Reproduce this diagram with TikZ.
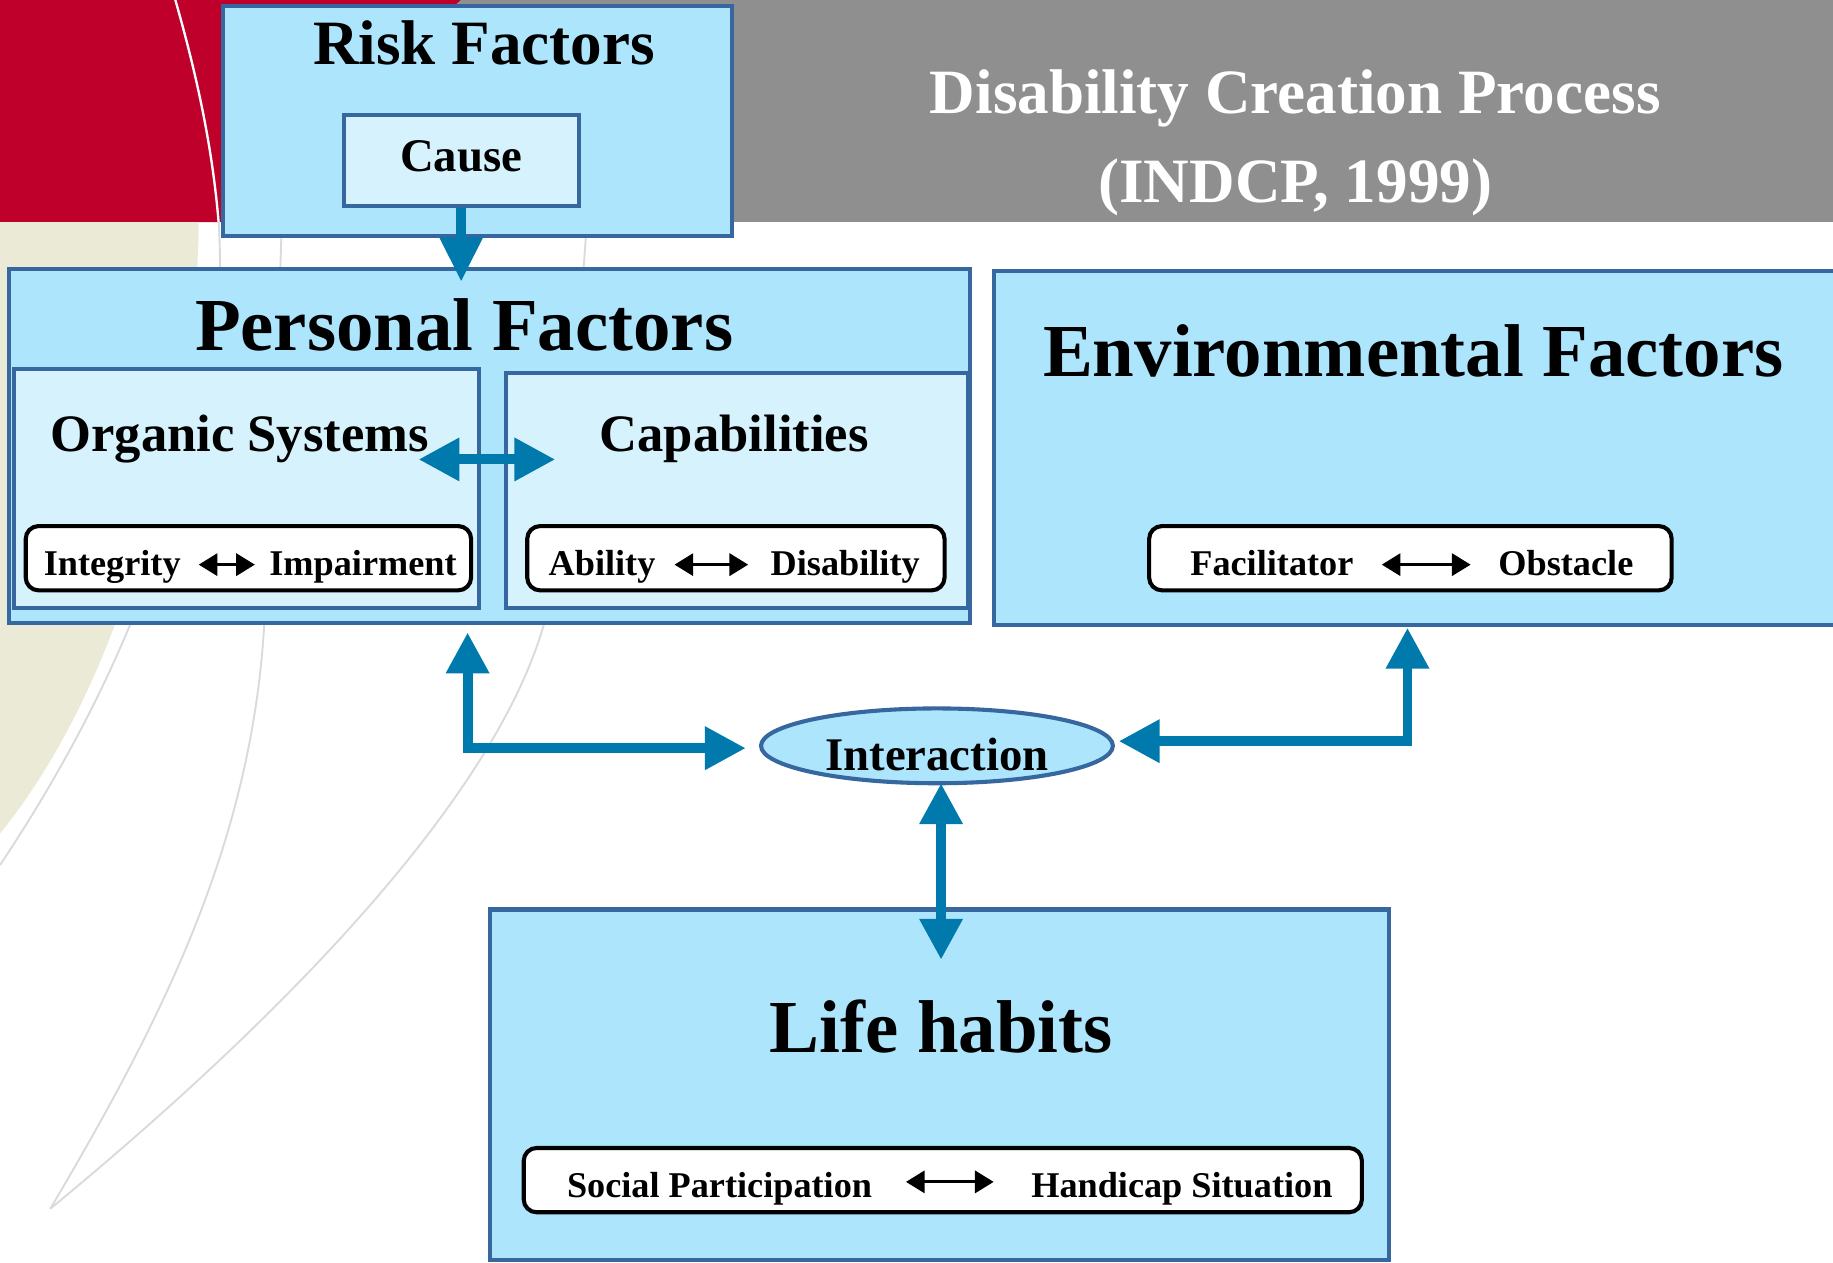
\documentclass[tikz,border=0pt]{standalone}
\usepackage{fontspec}
\setmainfont{Liberation Serif}
\usetikzlibrary{arrows.meta,shapes.geometric,calc}
\definecolor{boxfill}{RGB}{173,229,252}
\definecolor{innerfill}{RGB}{214,242,252}
\definecolor{bordercol}{RGB}{54,103,158}
\definecolor{arrowcol}{RGB}{0,121,173}
\definecolor{redbg}{RGB}{190,0,43}
\definecolor{graybg}{RGB}{143,143,143}
\definecolor{beigebg}{RGB}{235,234,214}
\definecolor{thinline}{RGB}{218,218,218}
\newcommand{\myfs}[1]{\fontsize{#1}{#1}\selectfont\bfseries}
\begin{document}
\begin{tikzpicture}[x=1pt,y=-1pt,
  bigbox/.style={draw=bordercol, line width=3.5pt, fill=boxfill, rectangle, inner sep=0pt},
  innerbox/.style={bigbox, fill=innerfill},
  pillbox/.style={draw=black, line width=3.5pt, fill=white, rectangle, rounded corners=11pt, inner sep=0pt, minimum height=55pt},
  txt/.style={inner sep=0pt, anchor=base, text=black},
  tealboth/.style={draw=arrowcol, line width=8.5pt, {Triangle[length=35pt,width=35pt]}-{Triangle[length=35pt,width=35pt]}},
  tealone/.style={draw=arrowcol, line width=8.5pt, -{Triangle[length=38pt,width=35pt]}},
  smallboth/.style={draw=black, line width=2.5pt, {Triangle[length=16pt,width=19pt]}-{Triangle[length=16pt,width=19pt]}},
  bgline/.style={draw=thinline, line width=1.6pt}
]
\useasboundingbox (0,0) rectangle (1568,1080);
% ---------- background ----------
\fill[white] (0,0) rectangle (1568,1080);
\fill[graybg] (0,0) rectangle (1568,190);
\fill[redbg] (0,0) -- (394,0) .. controls (330,60) and (300,130) .. (290,190) -- (0,190) -- cycle;
\fill[beigebg] (0,190) -- (170,190) .. controls (168,330) and (140,440) .. (98,535) .. controls (70,610) and (35,670) .. (0,713) -- cycle;
\draw[white, line width=2pt] (150,0) .. controls (170,70) and (182,130) .. (187,190);
\draw[bgline] (187,190) .. controls (195,300) and (160,420) .. (111,535) .. controls (80,610) and (40,680) .. (0,740);
\draw[bgline] (241,190) .. controls (238,300) and (232,420) .. (226,535) .. controls (215,720) and (140,870) .. (43,1034);
\draw[bgline] (502,190) .. controls (495,300) and (480,420) .. (465,535) .. controls (420,690) and (230,880) .. (43,1034);
% ---------- title ----------
\node[txt, text=white, font=\myfs{54}] (title1) at (1108,97) {Disability Creation Process};
\node[txt, text=white, font=\myfs{54}] (title2) at (1108,173) {(INDCP, 1999)};
% ---------- boxes ----------
\node[bigbox, minimum width=435pt, minimum height=197pt] (risk) at (408.5,103.5) {};
\node[txt, font=\myfs{54}] (risktxt) at (414,55) {Risk Factors};
\node[innerbox, minimum width=201pt, minimum height=78pt] (cause) at (394.5,137) {};
\node[txt, font=\myfs{40}] (causetxt) at (394.5,147) {Cause};

\node[bigbox, minimum width=822pt, minimum height=303pt] (personal) at (419,381.5) {};
\node[txt, font=\myfs{64}] (perstxt) at (397,300) {Personal Factors};
\node[innerbox, minimum width=398pt, minimum height=204pt] (organic) at (211,418) {};
\node[innerbox, minimum width=395pt, minimum height=201pt] (capab) at (630.5,419.5) {};
\node[txt, font=\myfs{45}] (orgtxt) at (205,386) {Organic Systems};
\node[txt, font=\myfs{45}] (captxt) at (628,386) {Capabilities};

\node[pillbox, minimum width=381pt] (integ) at (212.5,477.5) {};
\node[txt, font=\myfs{31}] (integtxt) at (96,492) {Integrity};
\node[txt, font=\myfs{31}] (imptxt) at (310.5,492) {Impairment};
\node[pillbox, minimum width=357pt] (abil) at (629.5,477.5) {};
\node[txt, font=\myfs{31}] (abiltxt) at (515,492) {Ability};
\node[txt, font=\myfs{31}] (distxt) at (723,492) {Disability};

\node[bigbox, minimum width=725pt, minimum height=303pt] (env) at (1212.5,383.5) {};
\node[txt, font=\myfs{64}] (envtxt) at (1209,322) {Environmental Factors};
\node[pillbox, minimum width=447pt] (facil) at (1206.5,477.5) {};
\node[txt, font=\myfs{31}] (faciltxt) at (1088,492) {Facilitator};
\node[txt, font=\myfs{31}] (obstxt) at (1339.5,492) {Obstacle};

\node[ellipse, draw=bordercol, line width=3.5pt, fill=boxfill, minimum width=301pt, minimum height=64pt, inner sep=0pt] (inter) at (801.5,638) {};
\node[txt, font=\myfs{40}] (intertxt) at (801.5,659) {Interaction};

\node[bigbox, minimum width=769pt, minimum height=300pt] (life) at (803.5,928) {};
\node[txt, font=\myfs{64}] (lifetxt) at (805,900) {Life habits};
\node[pillbox, minimum width=717pt] (social) at (806.5,1009.5) {};
\node[txt, font=\myfs{31}] (soctxt) at (615.5,1024) {Social Participation};
\node[txt, font=\myfs{31}] (handtxt) at (1011,1024) {Handicap Situation};

% ---------- small black arrows ----------
\coordinate (ia1) at (170,483); \coordinate (ia2) at (218,483);
\coordinate (aa1) at (577,483); \coordinate (aa2) at (640,483);
\coordinate (fa1) at (1182,483); \coordinate (fa2) at (1258,483);
\coordinate (sa1) at (775,1011); \coordinate (sa2) at (850,1011);
\draw[smallboth] (ia1) -- (ia2);
\draw[smallboth] (aa1) -- (aa2);
\draw[smallboth] (fa1) -- (fa2);
\draw[smallboth] (sa1) -- (sa2);

% ---------- teal arrows ----------
\coordinate (causetip) at (394.5,241);
\draw[tealone] (cause.south) -- (causetip);
\coordinate (oc1) at (358,393); \coordinate (oc2) at (475,393);
\draw[tealboth] (oc1) -- (oc2);
\coordinate (pup) at (400,541); \coordinate (pright) at (638,640);
\draw[tealboth] (pup) |- (pright);
\coordinate (eup) at (1204,537); \coordinate (eleft) at (957,634);
\draw[tealboth] (eup) |- (eleft);
\coordinate (iup) at (805,670); \coordinate (ldown) at (805,821);
\draw[tealboth] (iup) -- (ldown);
\end{tikzpicture}
\end{document}
